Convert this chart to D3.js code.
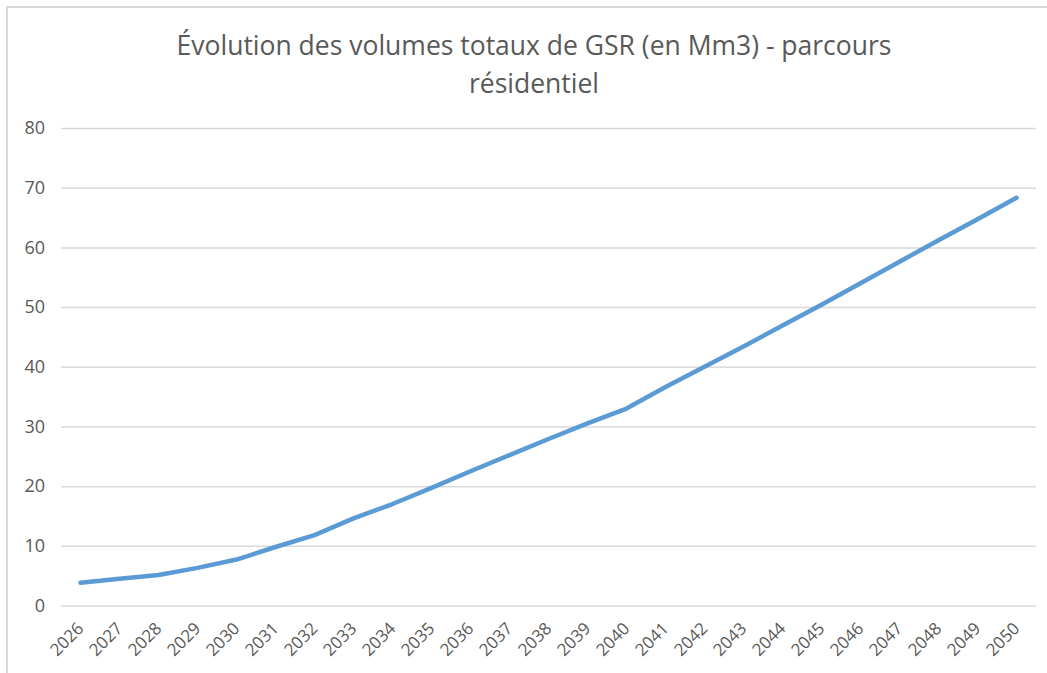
<!DOCTYPE html>
<html>
<head>
<meta charset="utf-8">
<script src="https://cdn.jsdelivr.net/npm/d3@7"></script>
<style>
  body { margin: 0; background: #fff; }
  svg { display: block; font-family: "Open Sans", sans-serif; }
</style>
</head>
<body>
<div id="chart"></div>
<script>
(function () {
	'use strict';

	var years = ["2026", "2027", "2028", "2029", "2030", "2031", "2032", "2033", "2034",
		"2035", "2036", "2037", "2038", "2039", "2040", "2041", "2042", "2043", "2044",
		"2045", "2046", "2047", "2048", "2049", "2050"];
	var volumes = [3.8, 4.5, 5.1, 6.3, 7.7, 9.8, 11.8, 14.6, 17.0,
		19.7, 22.5, 25.2, 27.9, 30.5, 33.0, 36.6, 40.0, 43.4, 46.9,
		50.4, 54.0, 57.6, 61.2, 64.7, 68.3];
	var yTicks = [0, 10, 20, 30, 40, 50, 60, 70, 80];
	var titleLines = ["Évolution des volumes totaux de GSR (en Mm3) - parcours", "résidentiel"];

	var width = 1047, height = 673;
	var svg = d3.select("#chart")
		.append("svg")
		.attr("width", width)
		.attr("height", height);

	// chart frame (only top and left edges are in view)
	svg.append("rect")
		.attr("x", 7).attr("y", 7)
		.attr("width", 1200).attr("height", 800)
		.attr("fill", "none")
		.attr("stroke", "#d9d9d9")
		.attr("stroke-width", 2);

	var x = d3.scaleBand().domain(years).range([61, 1036]);
	var y = d3.scaleLinear().domain([0, 80]).range([605.5, 128]);

	// title
	svg.append("g").selectAll("text")
		.data(titleLines)
		.enter()
		.append("text")
		.attr("x", 534)
		.attr("y", function(d, i){ return 55 + i * 38; })
		.attr("text-anchor", "middle")
		.attr("fill", "#595959")
		.attr("font-size", 26.5)
		.text(function(d){ return d; });

	// gridlines + y labels
	var yAxis = d3.axisLeft(y)
		.tickValues(yTicks)
		.tickSize(-(x.range()[1] - x.range()[0]))
		.tickPadding(16);
	var gy = svg.append("g")
		.attr("transform", "translate(" + x.range()[0] + ",0)")
		.call(yAxis);
	gy.select(".domain").remove();
	gy.selectAll(".tick line")
		.attr("stroke", "#d9d9d9")
		.attr("stroke-width", 1.5);
	gy.selectAll(".tick text")
		.attr("fill", "#595959")
		.attr("font-size", 18)
		.attr("font-family", "Open Sans, sans-serif");

	// x labels, rotated -45
	var xAxis = d3.axisBottom(x).tickSize(0).tickPadding(0);
	var gx = svg.append("g")
		.attr("transform", "translate(0," + y(0) + ")")
		.call(xAxis);
	gx.select(".domain").remove();
	gx.selectAll(".tick text")
		.attr("fill", "#595959")
		.attr("font-size", 17)
		.attr("font-family", "Open Sans, sans-serif")
		.attr("text-anchor", "end")
		.attr("dy", null)
		.attr("x", -14)
		.attr("y", 20)
		.attr("transform", "rotate(-45)");

	// series line
	var line = d3.line()
		.x(function(d, i){ return x(years[i]) + x.bandwidth() / 2; })
		.y(function(d){ return y(d); });

	svg.append("path")
		.datum(volumes)
		.attr("d", line)
		.attr("fill", "none")
		.attr("stroke", "#5b9bd5")
		.attr("stroke-width", 4.5)
		.attr("stroke-linecap", "round")
		.attr("stroke-linejoin", "round");
}());
</script>
</body>
</html>
